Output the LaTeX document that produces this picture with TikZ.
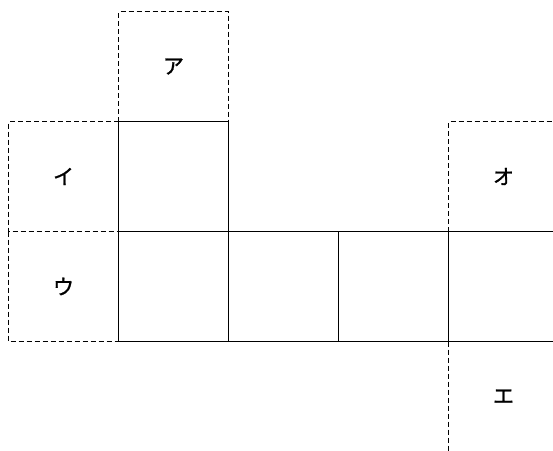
\documentclass[tikz,border=0pt]{standalone}
\usepackage{fontspec}
\newfontfamily\jp[FakeBold=1.2]{Noto Sans CJK JP}
\begin{document}
\begin{tikzpicture}[x=1pt,y=-1pt,
  cell/.style={minimum size=110pt, inner sep=0pt, outer sep=0pt, anchor=north west, line width=1.3pt},
  face/.style={cell, draw=black},
  lcell/.style={cell, font=\jp\fontsize{21}{21}\selectfont},
  fold/.style={draw=black, line width=1.2pt, dash pattern=on 5pt off 3pt}]
\useasboundingbox (0,0) rectangle (553,450);
\clip (0,0) rectangle (553,450);
% fold-out faces (labels)
\node[lcell] (a) at (118.5,11.5) {ア};
\node[lcell] (i) at (8.5,121.5) {イ};
\node[lcell] (u) at (8.5,231.5) {ウ};
\node[lcell] (o) at (448.5,121.5) {オ};
\node[lcell] (e) at (448.5,341.5) {エ};
% dashed outlines
\draw[fold] (a.south west) -- (a.north west) -- (a.north east) -- (a.south east);
\draw[fold] (i.north east) -- (i.north west) -- (i.south west) -- (i.south east);
\draw[fold] (u.north west) -- (u.south west) -- (u.south east);
\draw[fold] (o.south west) -- (o.north west) -- (o.north east) -- (o.south east);
\draw[fold] (e.north west) -- (e.south west) -- (e.south east) -- (e.north east);
% solid faces
\node[face] (s1) at (118.5,121.5) {};
\node[face] (s2) at (118.5,231.5) {};
\node[face] (s3) at (228.5,231.5) {};
\node[face] (s4) at (338.5,231.5) {};
\node[face] (s5) at (448.5,231.5) {};
\end{tikzpicture}
\end{document}
